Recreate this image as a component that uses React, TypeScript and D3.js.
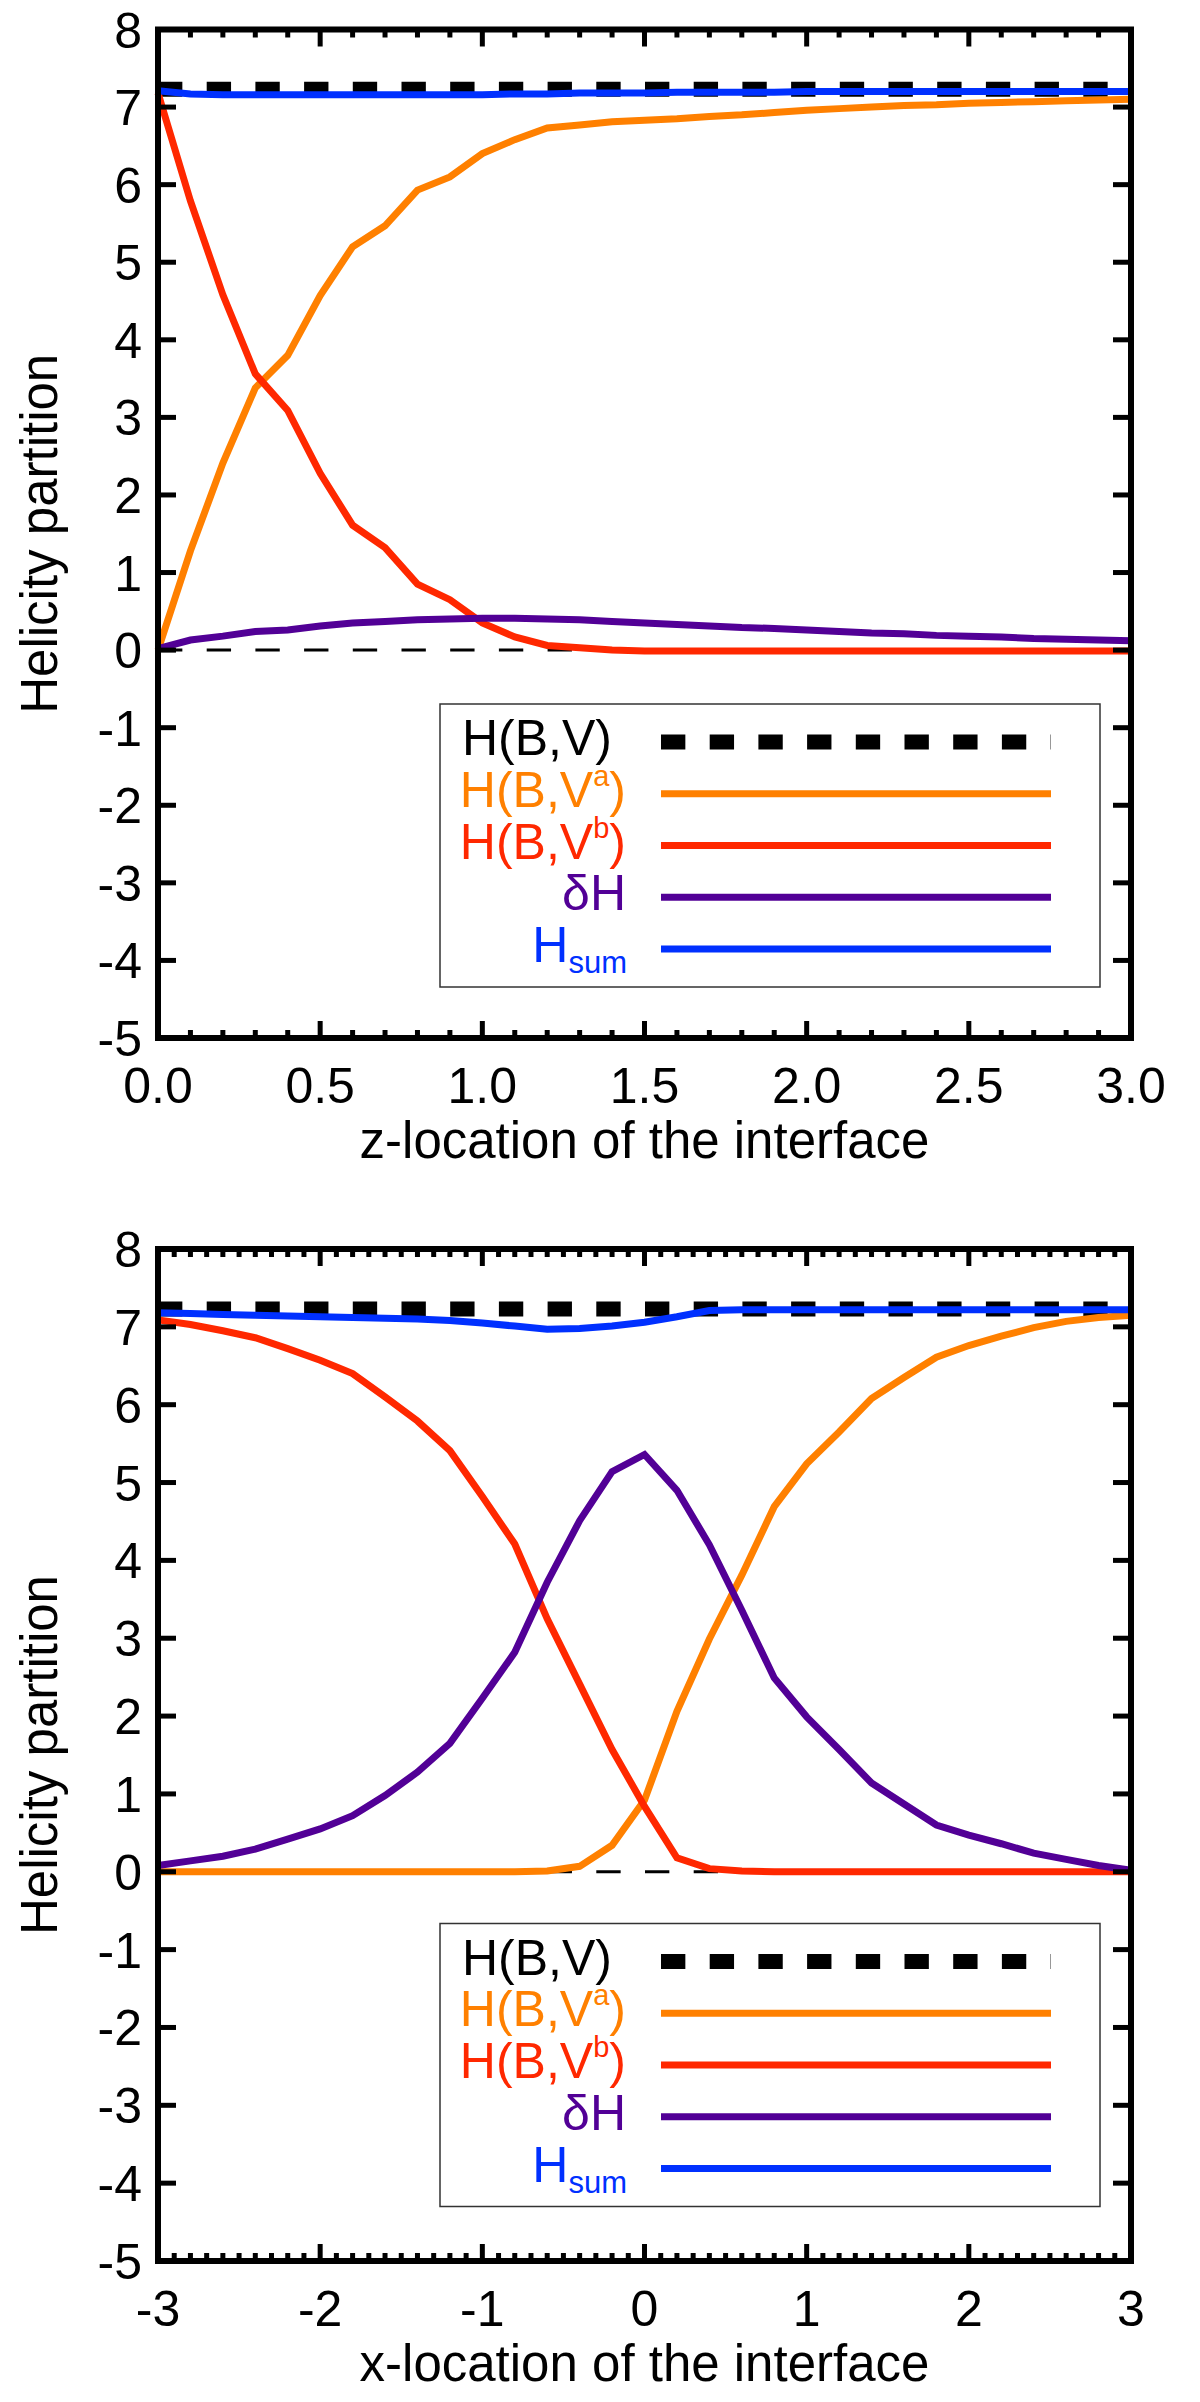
import React from 'react';
import * as d3 from 'd3';

// ---------- DATA ----------
const topX = [0.0, 0.1, 0.2, 0.3, 0.4, 0.5, 0.6, 0.7, 0.8, 0.9, 1.0, 1.1, 1.2, 1.3, 1.4, 1.5, 1.6, 1.7, 1.8, 1.9, 2.0, 2.1, 2.2, 2.3, 2.4, 2.5, 2.6, 2.7, 2.8, 2.9, 3.0];
const topHBV = [7.23, 7.23, 7.23, 7.23, 7.23, 7.23, 7.23, 7.23, 7.23, 7.23, 7.23, 7.23, 7.23, 7.23, 7.23, 7.23, 7.23, 7.23, 7.23, 7.23, 7.23, 7.23, 7.23, 7.23, 7.23, 7.23, 7.23, 7.23, 7.23, 7.23, 7.23];
const topVa = [0.0, 1.28, 2.41, 3.38, 3.8, 4.57, 5.2, 5.47, 5.93, 6.1, 6.4, 6.58, 6.73, 6.77, 6.81, 6.83, 6.85, 6.88, 6.9, 6.93, 6.96, 6.98, 7.0, 7.02, 7.03, 7.05, 7.06, 7.07, 7.08, 7.09, 7.1];
const topVb = [7.18, 5.79, 4.58, 3.56, 3.09, 2.28, 1.61, 1.32, 0.85, 0.65, 0.35, 0.17, 0.06, 0.03, 0.0, -0.01, -0.01, -0.01, -0.01, -0.01, -0.01, -0.01, -0.01, -0.01, -0.01, -0.01, -0.01, -0.01, -0.01, -0.01, -0.01];
const topDH = [0.02, 0.13, 0.18, 0.24, 0.26, 0.31, 0.35, 0.37, 0.39, 0.4, 0.41, 0.41, 0.4, 0.39, 0.37, 0.35, 0.33, 0.31, 0.29, 0.28, 0.26, 0.24, 0.22, 0.21, 0.19, 0.18, 0.17, 0.15, 0.14, 0.13, 0.12];
const topSum = [7.21, 7.17, 7.16, 7.16, 7.16, 7.16, 7.16, 7.16, 7.16, 7.16, 7.16, 7.17, 7.17, 7.18, 7.18, 7.18, 7.19, 7.19, 7.19, 7.19, 7.2, 7.2, 7.2, 7.2, 7.2, 7.2, 7.2, 7.2, 7.2, 7.2, 7.2];

const botX = [-3.0, -2.8, -2.6, -2.4, -2.2, -2.0, -1.8, -1.6, -1.4, -1.2, -1.0, -0.8, -0.6, -0.4, -0.2, 0.0, 0.2, 0.4, 0.6, 0.8, 1.0, 1.2, 1.4, 1.6, 1.8, 2.0, 2.2, 2.4, 2.6, 2.8, 3.0];
const botHBV = [7.23, 7.23, 7.23, 7.23, 7.23, 7.23, 7.23, 7.23, 7.23, 7.23, 7.23, 7.23, 7.23, 7.23, 7.23, 7.23, 7.23, 7.23, 7.23, 7.23, 7.23, 7.23, 7.23, 7.23, 7.23, 7.23, 7.23, 7.23, 7.23, 7.23, 7.23];
const botVa = [0, 0, 0, 0, 0, 0, 0, 0, 0, 0, 0, 0, 0.01, 0.07, 0.34, 0.92, 2.06, 2.99, 3.81, 4.69, 5.24, 5.65, 6.08, 6.35, 6.61, 6.76, 6.88, 6.99, 7.07, 7.12, 7.15];
const botVb = [7.09, 7.03, 6.95, 6.86, 6.72, 6.57, 6.4, 6.1, 5.79, 5.41, 4.82, 4.21, 3.25, 2.41, 1.57, 0.84, 0.18, 0.04, 0.01, 0, 0, 0, 0, 0, 0, 0, 0, 0, 0, 0, 0];
const botDH = [0.08, 0.14, 0.2, 0.29, 0.42, 0.55, 0.72, 0.98, 1.28, 1.65, 2.23, 2.82, 3.72, 4.51, 5.14, 5.36, 4.9, 4.2, 3.36, 2.49, 1.99, 1.57, 1.14, 0.87, 0.6, 0.47, 0.36, 0.24, 0.16, 0.08, 0.02];
const botSum = [7.18, 7.17, 7.16, 7.15, 7.14, 7.13, 7.12, 7.11, 7.1, 7.08, 7.05, 7.01, 6.97, 6.98, 7.01, 7.06, 7.13, 7.21, 7.22, 7.22, 7.22, 7.22, 7.22, 7.22, 7.22, 7.22, 7.22, 7.22, 7.22, 7.22, 7.22];

const yTicks = [8, 7, 6, 5, 4, 3, 2, 1, 0, -1, -2, -3, -4, -5];
const yTickLabels = ['8', '7', '6', '5', '4', '3', '2', '1', '0', '-1', '-2', '-3', '-4', '-5'];
const topXTicks = [0, 0.5, 1.0, 1.5, 2.0, 2.5, 3.0];
const topXTickLabels = ['0.0', '0.5', '1.0', '1.5', '2.0', '2.5', '3.0'];
const botXTicks = [-3, -2, -1, 0, 1, 2, 3];
const botXTickLabels = ['-3', '-2', '-1', '0', '1', '2', '3'];

const COLORS = {
  hbv: '#000000',
  va: '#ff8000',
  vb: '#ff2800',
  dh: '#520096',
  sum: '#0030ff',
};

const FONT = "'Liberation Sans', Arial, Helvetica, sans-serif";
const FS = 50;

type PanelProps = {
  top: number;
  bottom: number;
  xDomain: [number, number];
  xs: number[];
  hbv: number[];
  va: number[];
  vb: number[];
  dh: number[];
  sum: number[];
  xTicks: number[];
  xTickLabels: string[];
  minorStep: number;
  xLabel: string;
};

function Panel(p: PanelProps) {
  const left = 158;
  const right = 1131;
  const x = d3.scaleLinear().domain(p.xDomain).range([left, right]);
  const y = d3.scaleLinear().domain([-5, 8]).range([p.bottom, p.top]);
  const line = (vals: number[]) =>
    d3
      .line<number>()
      .x((_, i) => x(p.xs[i]))
      .y((v) => y(v))(vals) || '';

  const nMinor = Math.round((p.xDomain[1] - p.xDomain[0]) / p.minorStep);
  const minor = d3.range(nMinor + 1).map((i) => p.xDomain[0] + i * p.minorStep);
  const isMajor = (v: number) => p.xTicks.some((t) => Math.abs(t - v) < 1e-6);

  const legTop = p.top + 674.5;
  const legBottom = p.top + 957.5;
  const rowY = (i: number) => p.top + 712.5 + i * 51.75;
  const lx0 = 661;
  const lx1 = 1051;

  return (
    <g>
      {/* data lines */}
      <line x1={left} x2={right} y1={y(0)} y2={y(0)} stroke="#000" strokeWidth={3} strokeDasharray="24.35 24.35" />
      <path d={line(p.hbv)} fill="none" stroke={COLORS.hbv} strokeWidth={15} strokeDasharray="24.35 24.35" />
      <path d={line(p.va)} fill="none" stroke={COLORS.va} strokeWidth={7} />
      <path d={line(p.vb)} fill="none" stroke={COLORS.vb} strokeWidth={7} />
      <path d={line(p.dh)} fill="none" stroke={COLORS.dh} strokeWidth={7} />
      <path d={line(p.sum)} fill="none" stroke={COLORS.sum} strokeWidth={7} />

      {/* frame */}
      <rect x={left} y={p.top} width={right - left} height={p.bottom - p.top} fill="none" stroke="#000" strokeWidth={6} />

      {/* y ticks */}
      {yTicks.map((t, i) => (
        <g key={'y' + i}>
          <line x1={left} x2={left + 18} y1={y(t)} y2={y(t)} stroke="#000" strokeWidth={5} />
          <line x1={right} x2={right - 18} y1={y(t)} y2={y(t)} stroke="#000" strokeWidth={5} />
          <text x={142} y={y(t) + 18} textAnchor="end" fontFamily={FONT} fontSize={FS}>
            {yTickLabels[i]}
          </text>
        </g>
      ))}

      {/* x ticks */}
      {minor.map((v, i) => {
        const len = isMajor(v) ? 17 : 8;
        return (
          <g key={'m' + i}>
            <line x1={x(v)} x2={x(v)} y1={p.bottom} y2={p.bottom - len} stroke="#000" strokeWidth={5} />
            <line x1={x(v)} x2={x(v)} y1={p.top} y2={p.top + len} stroke="#000" strokeWidth={5} />
          </g>
        );
      })}
      {p.xTicks.map((t, i) => (
        <text key={'xl' + i} x={x(t)} y={p.bottom + 65} textAnchor="middle" fontFamily={FONT} fontSize={FS}>
          {p.xTickLabels[i]}
        </text>
      ))}

      {/* axis titles */}
      <text x={(left + right) / 2} y={p.bottom + 120} textAnchor="middle" fontFamily={FONT} fontSize={51}>
        {p.xLabel}
      </text>
      <text
        transform={`translate(57,${(p.top + p.bottom) / 2}) rotate(-90)`}
        textAnchor="middle"
        fontFamily={FONT}
        fontSize={51}
      >
        Helicity partition
      </text>

      {/* legend */}
      <rect x={440} y={legTop} width={660} height={legBottom - legTop} fill="#fff" stroke="#333" strokeWidth={1.5} />
      <text x={612} y={rowY(0) + 13} textAnchor="end" fontFamily={FONT} fontSize={FS} fill={COLORS.hbv}>
        H(B,V)
      </text>
      <line x1={lx0} x2={lx1} y1={rowY(0)} y2={rowY(0)} stroke={COLORS.hbv} strokeWidth={15} strokeDasharray="24.35 24.35" />

      <text x={626} y={rowY(1) + 13} textAnchor="end" fontFamily={FONT} fontSize={FS} fill={COLORS.va}>
        H(B,V<tspan fontSize={29} dy={-21}>a</tspan>
        <tspan dy={21}>)</tspan>
      </text>
      <line x1={lx0} x2={lx1} y1={rowY(1)} y2={rowY(1)} stroke={COLORS.va} strokeWidth={7} />

      <text x={626} y={rowY(2) + 13} textAnchor="end" fontFamily={FONT} fontSize={FS} fill={COLORS.vb}>
        H(B,V<tspan fontSize={29} dy={-21}>b</tspan>
        <tspan dy={21}>)</tspan>
      </text>
      <line x1={lx0} x2={lx1} y1={rowY(2)} y2={rowY(2)} stroke={COLORS.vb} strokeWidth={7} />

      <text x={626} y={rowY(3) + 13} textAnchor="end" fontFamily={FONT} fontSize={FS} fill={COLORS.dh}>
        δH
      </text>
      <line x1={lx0} x2={lx1} y1={rowY(3)} y2={rowY(3)} stroke={COLORS.dh} strokeWidth={7} />

      <text x={627} y={rowY(4) + 13} textAnchor="end" fontFamily={FONT} fontSize={FS} fill={COLORS.sum}>
        H<tspan fontSize={31} dy={11}>sum</tspan>
      </text>
      <line x1={lx0} x2={lx1} y1={rowY(4)} y2={rowY(4)} stroke={COLORS.sum} strokeWidth={7} />
    </g>
  );
}

export default function App() {
  return (
    <svg
      width={1200}
      height={2402}
      viewBox="0 0 1200 2402"
      style={{ position: 'absolute', left: 0, top: 0, background: '#fff' }}
    >
      <rect x={0} y={0} width={1200} height={2402} fill="#fff" />
      <Panel
        top={29.5}
        bottom={1038}
        xDomain={[0, 3]}
        xs={topX}
        hbv={topHBV}
        va={topVa}
        vb={topVb}
        dh={topDH}
        sum={topSum}
        xTicks={topXTicks}
        xTickLabels={topXTickLabels}
        minorStep={0.1}
        xLabel="z-location of the interface"
      />
      <Panel
        top={1249}
        bottom={2261}
        xDomain={[-3, 3]}
        xs={botX}
        hbv={botHBV}
        va={botVa}
        vb={botVb}
        dh={botDH}
        sum={botSum}
        xTicks={botXTicks}
        xTickLabels={botXTickLabels}
        minorStep={0.1}
        xLabel="x-location of the interface"
      />
    </svg>
  );
}
